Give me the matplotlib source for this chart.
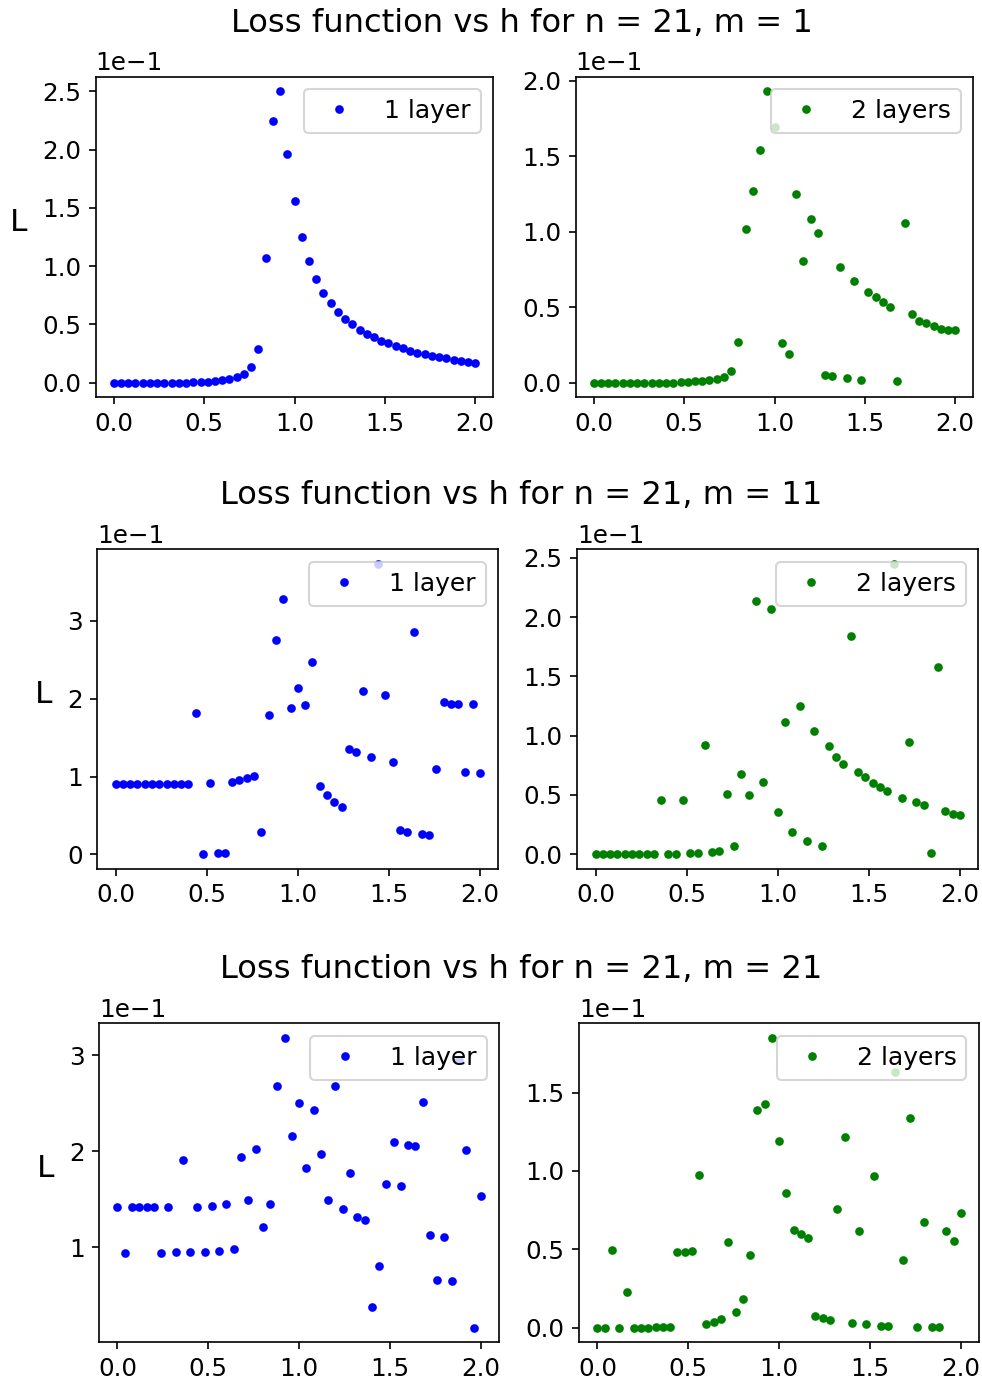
import numpy as np
import matplotlib
matplotlib.use("Agg")
import matplotlib.pyplot as plt

# h grid: 51 points from 0 to 2
h = np.linspace(0.0, 2.0, 51)
m_values = [1, 11, 21]

# m = 1
L1_m1 = [0.0, 0.0, 0.0, 0.0, 0.0, 0.0, 0.0, 0.0, 0.0, 0.0, 0.0,
         0.0002, 0.0006, 0.0009, 0.0012, 0.0020, 0.0029, 0.0049, 0.0078, 0.0132,
         0.0288, 0.1071, 0.2241, 0.2500, 0.1958, 0.1555, 0.1253, 0.1045, 0.0887,
         0.0769, 0.0683, 0.0608, 0.0547, 0.0501, 0.0455, 0.0420, 0.0389, 0.0360,
         0.0337, 0.0314, 0.0294, 0.0276, 0.0259, 0.0245, 0.0233, 0.0219, 0.0210,
         0.0199, 0.0187, 0.0179, 0.0170]
L2_m1 = [0.0, 0.0, 0.0, 0.0, 0.0, 0.0, 0.0, 0.0, 0.0, 0.0, 0.0, 0.0,
         0.0004, 0.0004, 0.0009, 0.0011, 0.0016, 0.0024, 0.0040, 0.0080, 0.0271,
         0.1018, 0.1267, 0.1540, 0.1931, 0.1691, 0.0262, 0.0193, 0.1251, 0.0807,
         0.1087, 0.0991, 0.0053, 0.0044, 0.0767, 0.0029, 0.0673, 0.0020, 0.0600,
         0.0569, 0.0538, 0.0500, 0.0009, 0.1058, 0.0458, 0.0409, 0.0393, 0.0376,
         0.0358, 0.0347, 0.0351]

# m = 11
L1_m11 = [0.0903, 0.0903, 0.0903, 0.0903, 0.0903, 0.0903, 0.0903, 0.0903, 0.0903,
          0.0903, 0.0903, 0.1814, 0.0004, 0.0916, 0.0021, 0.0021, 0.0933, 0.0954,
          0.0976, 0.1010, 0.0295, 0.1793, 0.2751, 0.3278, 0.1883, 0.2135, 0.1913,
          0.2465, 0.0877, 0.0770, 0.0676, 0.0612, 0.1356, 0.1314, 0.2097, 0.1249,
          0.3731, 0.2041, 0.1181, 0.0317, 0.0295, 0.2850, 0.0261, 0.0244, 0.1091,
          0.1951, 0.1938, 0.1938, 0.1061, 0.1934, 0.1044]
L2_m11 = [0.0, 0.0, 0.0, 0.0, 0.0, 0.0, 0.0, 0.0, 0.0, 0.0456, 0.0, 0.0, 0.0459,
          0.0006, 0.0008, 0.0923, 0.0020, 0.0028, 0.0504, 0.0070, 0.0678, 0.0501,
          0.2134, 0.0611, 0.2069, 0.0352, 0.1118, 0.0189, 0.1250, 0.0110, 0.1039,
          0.0065, 0.0915, 0.0822, 0.0763, 0.1836, 0.0690, 0.0648, 0.0602, 0.0569,
          0.0535, 0.2449, 0.0476, 0.0943, 0.0436, 0.0411, 0.0006, 0.1577, 0.0363,
          0.0341, 0.0327]

# m = 21
L1_m21 = [0.1423, 0.0945, 0.1423, 0.1423, 0.1423, 0.1423, 0.0945, 0.1423, 0.0948,
          0.1908, 0.0948, 0.1423, 0.0951, 0.1433, 0.0962, 0.1447, 0.0983, 0.1943,
          0.1492, 0.2019, 0.1211, 0.1454, 0.2678, 0.3180, 0.2158, 0.2497, 0.1825,
          0.2428, 0.1967, 0.1492, 0.2678, 0.1395, 0.1773, 0.1315, 0.1284, 0.0386,
          0.0806, 0.1662, 0.2095, 0.1638, 0.2068, 0.2054, 0.2508, 0.1132, 0.0667,
          0.1114, 0.0650, 0.2948, 0.2009, 0.0165, 0.1534]
L2_m21 = [0.0, 0.0, 0.0496, 0.0, 0.0230, 0.0, 0.0, 0.0, 0.0006, 0.0002, 0.0002,
          0.0481, 0.0485, 0.0487, 0.0972, 0.0026, 0.0038, 0.0053, 0.0545, 0.0098,
          0.0185, 0.0464, 0.1391, 0.1430, 0.1849, 0.1189, 0.0860, 0.0626, 0.0600,
          0.0572, 0.0077, 0.0062, 0.0051, 0.0757, 0.1217, 0.0028, 0.0619, 0.0026,
          0.0968, 0.0013, 0.0013, 0.1630, 0.0432, 0.1338, 0.0006, 0.0672, 0.0006,
          0.0006, 0.0619, 0.0555, 0.0734]

resultados = [(L1_m1, L2_m1), (L1_m11, L2_m11), (L1_m21, L2_m21)]

W, H = 982, 1384
fig = plt.figure(figsize=(W / 150, H / 150), dpi=150)

# pixel boxes (left, right, top, bottom) for each row
caixas = [
    [(95.7, 493.3, 76.7, 397.3), (575.7, 973.3, 76.7, 397.3)],
    [(97.3, 498.3, 549.3, 868.7), (577.3, 978.3, 549.3, 868.7)],
    [(99.3, 499.0, 1023.3, 1342.3), (579.3, 979.0, 1023.3, 1342.3)],
]
titulos_y = [24, 496, 970]

for row, (m, (L1, L2)) in enumerate(zip(m_values, resultados)):
    fig.text(521.5 / W, 1 - titulos_y[row] / H,
             f"Loss function vs h for n = 21, m = {m}",
             ha="center", va="center", fontsize=15.4)
    for col, (L, cor, rot) in enumerate([(L1, "b", "1 layer"), (L2, "g", "2 layers")]):
        l, r, t, b = caixas[row][col]
        ax = fig.add_axes([l / W, 1 - b / H, (r - l) / W, (b - t) / H])
        ax.plot(h, L, ".", color=cor, markersize=6.3, label=rot)
        ax.ticklabel_format(axis="y", style="sci", scilimits=(0, 0))
        ax.tick_params(labelsize=11.8)
        ax.yaxis.get_offset_text().set_fontsize(11.8)
        ax.legend(loc="upper right", fontsize=12)
        if col == 0:
            ax.set_ylabel("L", rotation=0, fontsize=15, labelpad=11)

plt.savefig("out.png", dpi=150)
plt.close()
